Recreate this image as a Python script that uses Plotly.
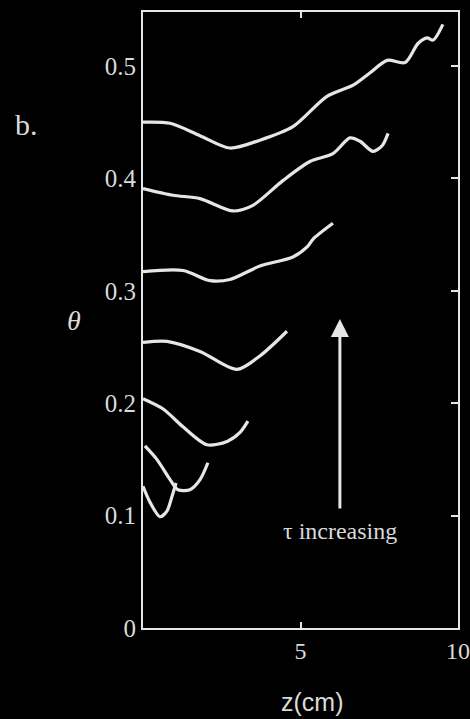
import plotly.graph_objects as go

# Curves (z in cm, theta), in order of increasing tau
z1 = [0.0, 0.22, 0.54, 0.76, 0.92, 1.05]
t1 = [0.126, 0.112, 0.099, 0.104, 0.117, 0.129]

z2 = [0.06, 0.44, 0.86, 1.11, 1.49, 1.81, 2.06]
t2 = [0.162, 0.150, 0.132, 0.123, 0.123, 0.132, 0.147]

z3 = [0.0, 0.63, 1.27, 2.03, 2.67, 3.08, 3.33]
t3 = [0.204, 0.195, 0.179, 0.163, 0.166, 0.174, 0.184]

z4 = [0.0, 0.76, 1.81, 2.98, 3.71, 4.57]
t4 = [0.254, 0.255, 0.246, 0.230, 0.242, 0.264]

z5 = [0.0, 1.27, 2.13, 2.76, 3.71, 4.76, 5.21, 5.40, 6.03]
t5 = [0.317, 0.318, 0.309, 0.310, 0.322, 0.330, 0.339, 0.346, 0.360]

z6 = [0.0, 0.95, 1.81, 2.86, 3.49, 4.44, 5.30, 6.03, 6.57, 6.89, 7.30, 7.59, 7.78]
t6 = [0.391, 0.385, 0.382, 0.371, 0.376, 0.398, 0.415, 0.422, 0.436, 0.433, 0.424, 0.429, 0.440]

z7 = [0.0, 0.86, 1.81, 2.76, 3.71, 4.76, 5.84, 6.67, 7.21, 7.75, 8.32, 8.73, 9.02, 9.21, 9.52]
t7 = [0.450, 0.449, 0.438, 0.427, 0.434, 0.446, 0.473, 0.483, 0.494, 0.505, 0.503, 0.520, 0.525, 0.523, 0.537]

curves = [(z1, t1), (z2, t2), (z3, t3), (z4, t4), (z5, t5), (z6, t6), (z7, t7)]

# Axis ticks
x_ticks = [5, 10]
x_labels = ["5", "10"]
y_ticks = [0, 0.1, 0.2, 0.3, 0.4, 0.5]
y_labels = ["0", "0.1", "0.2", "0.3", "0.4", "0.5"]

# Arrow annotation: (z, theta) of tail and tip, label position
arrow_z = 6.25
arrow_tail = 0.105
arrow_tip = 0.275
label_text = "τ increasing"
label_theta = 0.086

LINE = "#e6e6e6"
TXT = "#dadada"
SERIF = "Liberation Serif, Times New Roman, serif"

W, H = 470, 719
ML, MR, MT, MB = 143, 12, 12, 91

fig = go.Figure()
for z, t in curves:
    fig.add_trace(go.Scatter(x=z, y=t, mode="lines",
                             line=dict(color=LINE, width=3.2, shape="spline", smoothing=0.8),
                             showlegend=False, hoverinfo="skip"))
# invisible trace to activate secondary axes for mirror ticks
fig.add_trace(go.Scatter(x=[0], y=[0], xaxis="x2", yaxis="y2", mode="markers",
                         marker=dict(opacity=0), showlegend=False, hoverinfo="skip"))

axis_common = dict(showgrid=False, zeroline=False, linecolor=LINE, linewidth=2, automargin=False)

fig.update_layout(
    width=W, height=H,
    paper_bgcolor="black", plot_bgcolor="black",
    margin=dict(l=ML, r=MR, t=MT, b=MB),
    xaxis=dict(range=[0, 10], tickvals=x_ticks, ticktext=x_labels,
               ticks="inside", ticklen=6, tickcolor=LINE, tickwidth=1.5,
               ticklabeloverflow="allow",
               tickfont=dict(family=SERIF, size=24, color=TXT),
               showline=True, **axis_common),
    yaxis=dict(range=[0, 0.548], tickvals=y_ticks, ticktext=y_labels,
               ticks="", tickfont=dict(family=SERIF, size=25, color=TXT),
               showline=True, **axis_common),
    xaxis2=dict(range=[0, 10], overlaying="x", side="top", tickvals=[5],
                ticks="inside", ticklen=6, tickcolor=LINE, tickwidth=1.5,
                showticklabels=False, showline=True, **axis_common),
    yaxis2=dict(range=[0, 0.548], overlaying="y", side="right", tickvals=y_ticks,
                ticks="inside", ticklen=7, tickcolor=LINE, tickwidth=1.5,
                showticklabels=False, showline=True, **axis_common),
)

fig.add_annotation(x=arrow_z, y=arrow_tip, ax=arrow_z, ay=arrow_tail,
                   xref="x", yref="y", axref="x", ayref="y",
                   text="", showarrow=True, arrowhead=2, arrowsize=1.2,
                   arrowwidth=3, arrowcolor=LINE)
fig.add_annotation(x=arrow_z, y=label_theta, xref="x", yref="y", text=label_text,
                   showarrow=False, font=dict(family=SERIF, size=24, color=TXT))


def px_to_paper(px, py):
    return (px - ML) / (W - ML - MR), 1 - (py - MT) / (H - MT - MB)


for txt, px, py, fam, size in [
    ("<i>θ</i>", 74, 320, SERIF, 28),
    ("b.", 27, 124, SERIF, 30),
    ("z(cm)", 312, 702, "Liberation Sans, Arial, sans-serif", 25),
]:
    x, y = px_to_paper(px, py)
    fig.add_annotation(x=x, y=y, xref="paper", yref="paper", text=txt,
                       xanchor="center", yanchor="middle", showarrow=False,
                       font=dict(family=fam, size=size, color=TXT))

fig.write_html("out.html")
